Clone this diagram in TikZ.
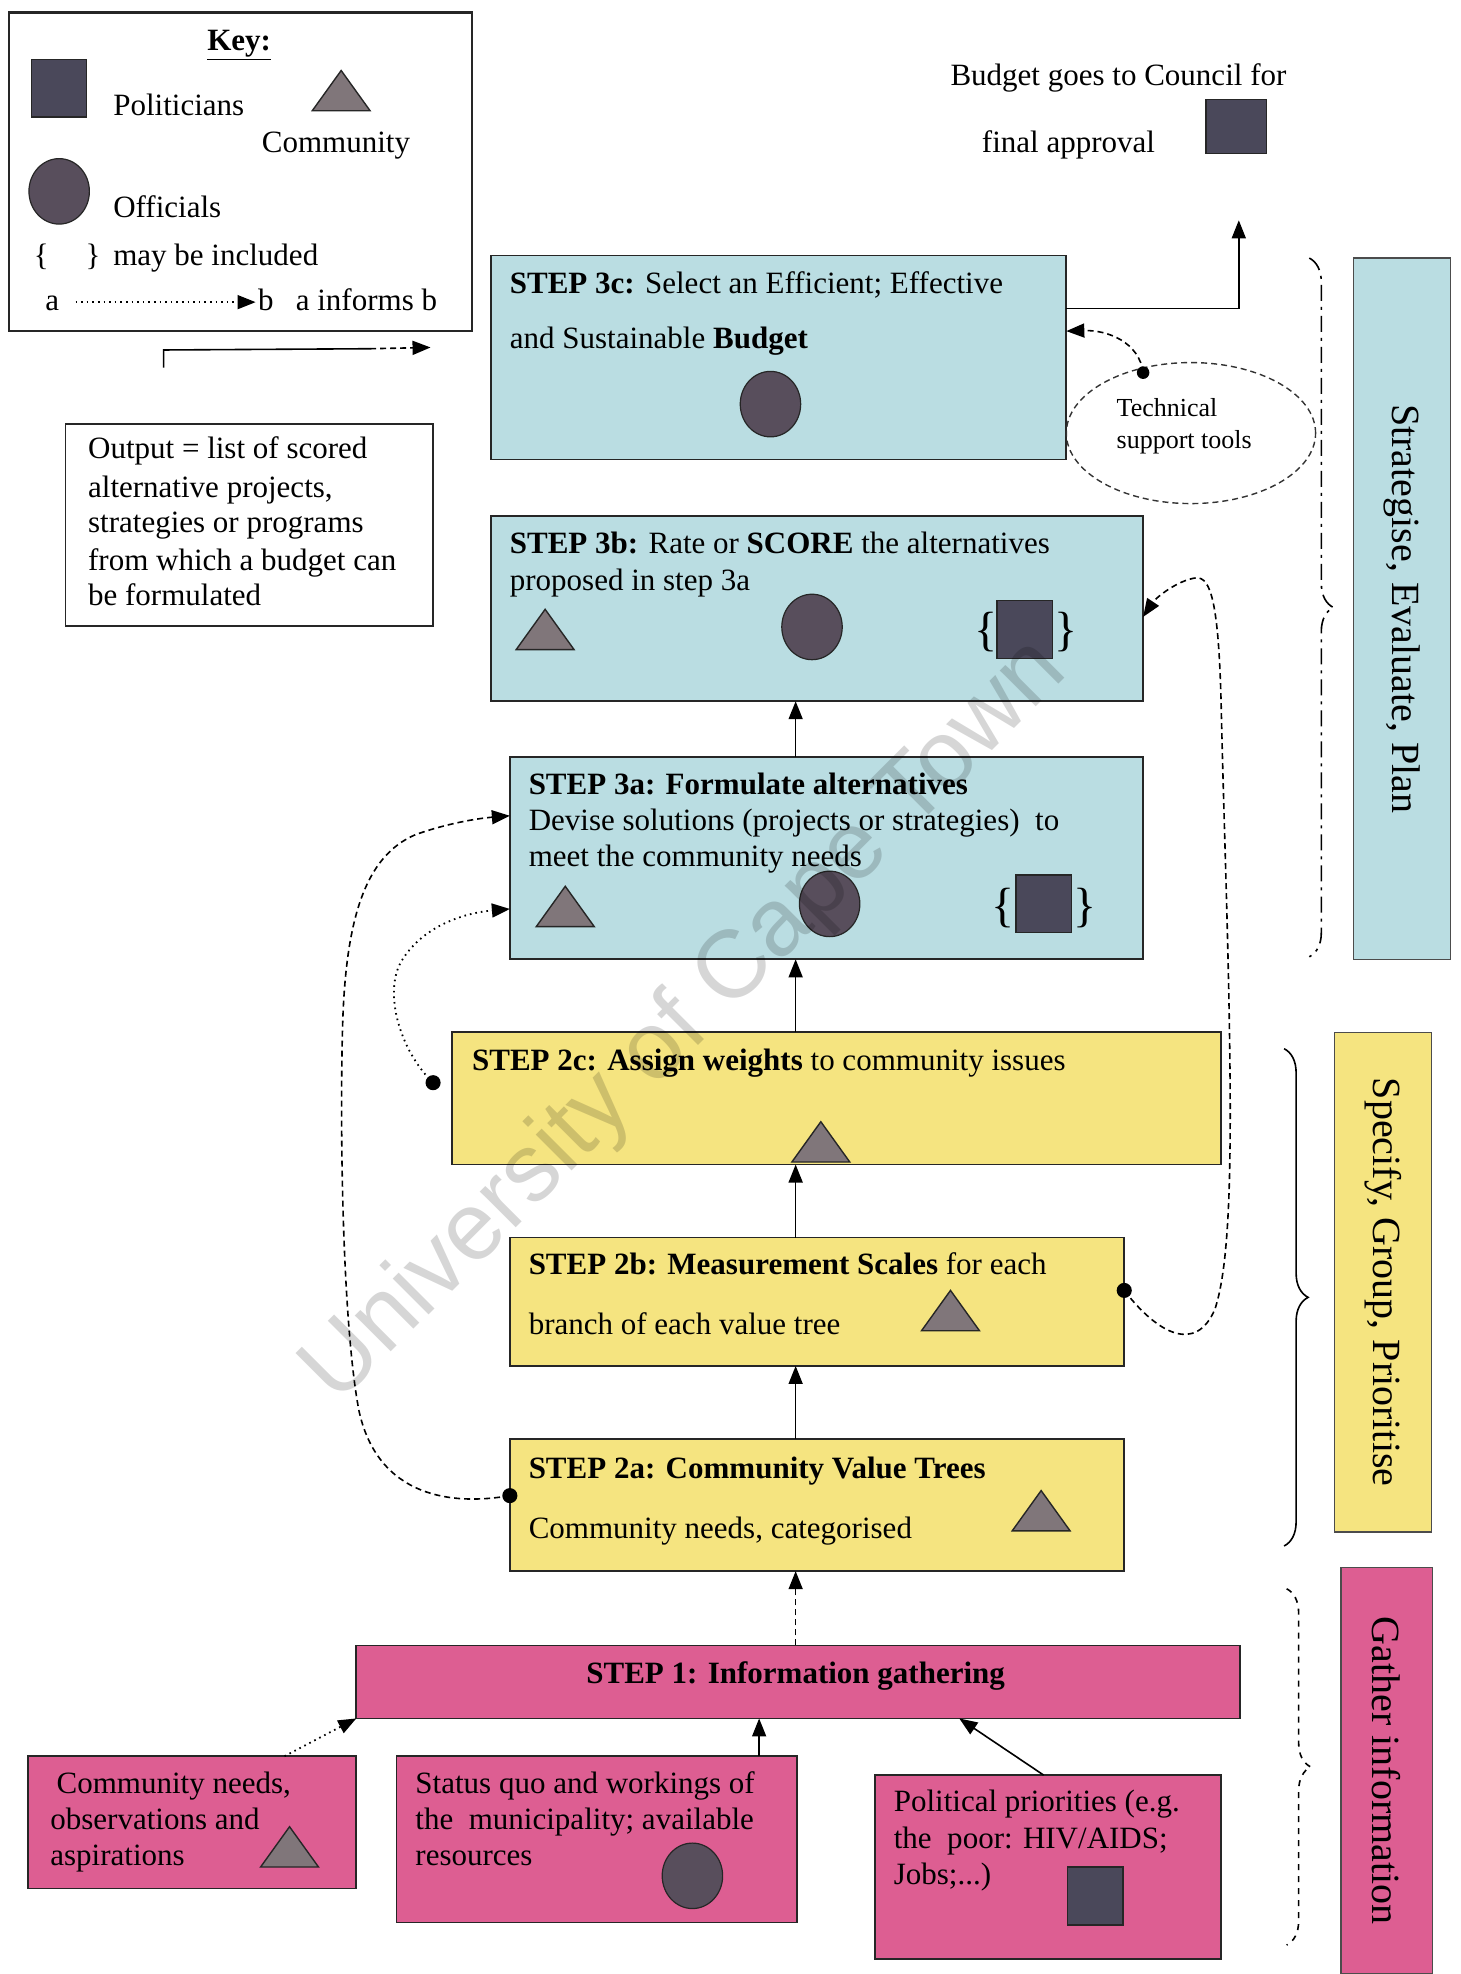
\documentclass[tikz,border=0pt]{standalone}
\usepackage{fontspec}
\setmainfont{Liberation Serif}
\newfontfamily\wmfont{Liberation Sans}
\usetikzlibrary{shapes.geometric,arrows.meta,decorations.pathreplacing,fit}
\definecolor{sblue}{RGB}{186,221,226}
\definecolor{syellow}{RGB}{245,228,128}
\definecolor{spink}{RGB}{221,94,146}
\definecolor{polcol}{RGB}{74,72,90}
\definecolor{offcol}{RGB}{88,78,92}
\definecolor{comcol}{RGB}{128,118,122}
\newcommand\comtri[2]{\filldraw[comsty] (#1-23,#2+16) -- (#1+23,#2+16) -- (#1,#2-16) -- cycle;}
\newcommand\offcirc[2]{\filldraw[offsty] (#1,#2) ellipse [x radius=24, y radius=26];}
\newcommand\polsq[2]{\filldraw[polsty] (#1-22,#2-23) rectangle (#1+22,#2+23);}
\begin{document}
\begin{tikzpicture}[x=0.6293pt,y=-0.6293pt,
  every node/.style={font=\fontsize{15.5}{18.6}\selectfont, inner sep=0pt, outer sep=0pt},
  box/.style={draw=black!85, line width=0.9pt, inner sep=0pt},
  bluebox/.style={box, fill=sblue},
  yelbox/.style={box, fill=syellow},
  pinkbox/.style={box, fill=spink},
  lblbox/.style={draw=black!70, line width=0.8pt, inner sep=0pt},
  txt/.style={anchor=base west},
  smalltxt/.style={anchor=base west, font=\fontsize{13}{15}\selectfont},
  sidetxt/.style={rotate=-90, font=\fontsize{20}{24}\selectfont},
  bigbr/.style={anchor=base, font=\fontsize{24}{24}\selectfont},
  polsty/.style={draw=black!85, fill=polcol, line width=0.6pt},
  offsty/.style={draw=black!85, fill=offcol, line width=0.6pt},
  comsty/.style={draw=black!85, fill=comcol, line width=0.7pt, line join=miter},
  arr/.style={-{Triangle[length=9pt,width=7pt]}, line width=0.8pt},
  brc/.style={decorate, decoration={brace, amplitude=12}, line width=0.8pt},
]
\useasboundingbox (0,0) rectangle (1160,1568);

% ---------- key ----------
\node[draw=black!85, line width=1.2pt, fit={(7,10) (375,263)}] (key) {};
\node (keyt) at (190,36) {\underline{\textbf{Key:}}};
\polsq{47}{70}
\node[txt] (kpol) at (90,92) {Politicians};
\comtri{271}{72}
\node[txt] (kcom) at (208,121) {Community};
\offcirc{47}{152}
\node[txt] (koff) at (90,173) {Officials};
\node[txt] (kbr1) at (27,211) {\{};
\node[txt] (kbr2) at (68,211) {\}};
\node[txt] (kinc) at (90,211) {may be included};
\node[txt] (ka) at (36,247) {a};
\coordinate (kas) at (60,240);
\coordinate (kbe) at (203,240);
\draw[arr, dotted] (kas) -- (kbe);
\node[txt] (kb) at (205,247) {b};
\node[txt] (kinf) at (235,247) {a informs b};

% ---------- council ----------
\node[txt] (bud1) at (755,68) {Budget goes to Council for};
\node[txt] (bud2) at (780,121) {final approval};
\filldraw[polsty] (958,79) rectangle (1006,122);

% ---------- output box ----------
\node[box, fill=white, fit={(52,337) (344,497)}] (outb) {};
\node[txt] (o1) at (70,364) {Output = list of scored};
\node[txt] (o2) at (70,395) {alternative projects,};
\node[txt] (o3) at (70,423) {strategies or programs};
\node[txt] (o4) at (70,453) {from which a budget can};
\node[txt] (o5) at (70,481) {be formulated};
\coordinate (ob) at (130,292);
\coordinate (oc) at (130,278);
\coordinate (od) at (294,277);
\coordinate (oe) at (342,276);
\draw[line width=0.8pt] (ob) -- (oc) -- (od);
\draw[arr, densely dashed] (od) -- (oe);

% ---------- step boxes ----------
\node[bluebox, fit={(390,203) (847,365)}] (s3c) {};
\node[txt] (t3c1) at (405,233) {\textbf{STEP 3c:} Select an Efficient; Effective};
\node[txt] (t3c2) at (405,277) {and Sustainable \textbf{Budget}};
\offcirc{612}{321}

\node[bluebox, fit={(390,410) (908,557)}] (s3b) {};
\node[txt] (t3b1) at (405,440) {\textbf{STEP 3b:} Rate or \textbf{SCORE} the alternatives};
\node[txt] (t3b2) at (405,469) {proposed in step 3a};
\comtri{433}{500}
\offcirc{645}{498}
\node[bigbr] (b3b1) at (783,513) {\{};
\polsq{814}{500}
\node[bigbr] (b3b2) at (847,513) {\}};

\node[bluebox, fit={(405,601) (908,762)}] (s3a) {};
\node[txt] (t3a1) at (420,631) {\textbf{STEP 3a: Formulate alternatives}};
\node[txt] (t3a2) at (420,660) {Devise solutions (projects or strategies)\ \ to};
\node[txt] (t3a3) at (420,688) {meet the community needs};
\comtri{449}{720}
\offcirc{659}{718}
\node[bigbr] (b3a1) at (797,732) {\{};
\polsq{829}{718}
\node[bigbr] (b3a2) at (862,732) {\}};

\node[yelbox, fit={(359,820) (970,925)}] (s2c) {};
\node[txt] (t2c) at (375,850) {\textbf{STEP 2c: Assign weights} to community issues};
\comtri{652}{907}

\node[yelbox, fit={(405,983) (893,1085)}] (s2b) {};
\node[txt] (t2b1) at (420,1012) {\textbf{STEP 2b: Measurement Scales} for each};
\node[txt] (t2b2) at (420,1060) {branch of each value tree};
\comtri{755}{1041}

\node[yelbox, fit={(405,1143) (893,1248)}] (s2a) {};
\node[txt] (t2a1) at (420,1174) {\textbf{STEP 2a: Community Value Trees}};
\node[txt] (t2a2) at (420,1222) {Community needs, categorised};
\comtri{827}{1200}

\node[pinkbox, fit={(283,1307) (985,1365)}] (s1) {};
\node (t1) at (632,1331) {\textbf{STEP 1: Information gathering}};

\node[pinkbox, fit={(22,1395) (283,1500)}] (cn) {};
\node[txt] (cn1) at (45,1425) {Community needs,};
\node[txt] (cn2) at (40,1453) {observations and};
\node[txt] (cn3) at (40,1482) {aspirations};
\comtri{230}{1467}

\node[pinkbox, fit={(315,1395) (633,1527)}] (sq) {};
\node[txt] (sq1) at (330,1425) {Status quo and workings of};
\node[txt] (sq2) at (330,1453) {the\ \ municipality; available};
\node[txt] (sq3) at (330,1482) {resources};
\offcirc{550}{1490}

\node[pinkbox, fit={(695,1410) (970,1556)}] (pp) {};
\node[txt] (pp1) at (710,1439) {Political priorities (e.g.};
\node[txt] (pp2) at (710,1468) {the\ \ poor: HIV/AIDS;};
\node[txt] (pp3) at (710,1497) {Jobs;...)};
\polsq{870}{1506}

% ---------- technical support ----------
\node[ellipse, draw=black!80, densely dashed, line width=0.7pt, minimum width={198*0.6293pt}, minimum height={112*0.6293pt}] (tech) at (946,344) {};
\node[smalltxt] (tech1) at (887,331) {Technical};
\node[smalltxt] (tech2) at (887,356) {support tools};

% ---------- vertical flow arrows ----------
\coordinate (cx) at (632,0);
\draw[arr] (s3a.north -| cx) -- (s3b.south -| cx);
\draw[arr] (s2c.north -| cx) -- (s3a.south -| cx);
\draw[arr] (s2b.north -| cx) -- (s2c.south -| cx);
\draw[arr] (s2a.north -| cx) -- (s2b.south -| cx);
\draw[arr, densely dashed] (s1.north -| cx) -- (s2a.south -| cx);

% council
\coordinate (fa) at (984,175);
\coordinate (fay) at (0,245);
\draw[arr] (s3c.east |- fay) -- (fa |- fay) -- (fa);

% technical tools -> 3c
\coordinate (techdot) at (908,296);
\coordinate (y263) at (0,263);
\draw[arr, densely dashed] (techdot) .. controls (905,272) and (880,262) .. (s3c.east |- y263);
\fill (techdot) circle [radius=5];

% left loops
\coordinate (y1188) at (0,1188);
\coordinate (y648) at (0,648);
\coordinate (y722) at (0,722);
\coordinate (d2a) at (s2a.west |- y1188);
\coordinate (d2c) at (344,860);
\draw[arr, densely dashed] (d2a) .. controls (360,1196) and (300,1190) .. (285,1120) .. controls (272,1050) and (270,900) .. (272,820) .. controls (274,730) and (290,680) .. (330,663) .. controls (355,654) and (380,650) .. (s3a.west |- y648);
\draw[arr, dotted, line width=0.9pt] (d2c) .. controls (318,835) and (305,790) .. (318,765) .. controls (335,735) and (370,725) .. (s3a.west |- y722);
\fill (d2a) circle [radius=6];
\fill (d2c) circle [radius=6];

% right loop
\coordinate (y1025) at (0,1025);
\coordinate (y490) at (0,490);
\coordinate (d2b) at (s2b.east |- y1025);
\draw[arr, densely dashed] (d2b) .. controls (920,1060) and (950,1075) .. (965,1040) .. controls (975,1010) and (978,950) .. (977,850) .. controls (976,750) and (972,650) .. (970,560) .. controls (968,480) and (962,458) .. (950,459) .. controls (935,461) and (918,475) .. (s3b.east |- y490);
\fill (d2b) circle [radius=6];

% bottom arrows into step 1
\coordinate (b1s) at (226,1395);
\coordinate (mx) at (603,0);
\coordinate (rxs) at (829,0);
\coordinate (rxe) at (762,0);
\draw[arr, dotted, line width=0.9pt] (b1s) -- (s1.south west);
\draw[arr] (sq.north -| mx) -- (s1.south -| mx);
\draw[arr] (pp.north -| rxs) -- (s1.south -| rxe);

% ---------- braces and phase labels ----------
\draw[brc, dash pattern=on 8pt off 3pt on 1.5pt off 3pt] (1040,205) -- (1040,760);
\draw[brc] (1020,833) -- (1020,1228);
\draw[brc, dashed] (1022,1262) -- (1022,1545);

\node[lblbox, fill=sblue, fit={(1075,205) (1152,762)}] (l1) {};
\node[sidetxt] (l1t) at (l1.center) {Strategise, Evaluate, Plan};
\node[lblbox, fill=syellow, fit={(1060,820) (1137,1217)}] (l2) {};
\node[sidetxt] (l2t) at (l2.center) {Specify, Group, Prioritise};
\node[lblbox, fill=spink, fit={(1065,1245) (1138,1568)}] (l3) {};
\node[sidetxt] (l3t) at (l3.center) {Gather information};

% ---------- watermark ----------
\node[rotate=45, text=black, text opacity=0.16, font=\wmfont\fontsize{48}{56}\selectfont] (wm) at (545,812) {University of Cape Town};
\end{tikzpicture}
\end{document}
